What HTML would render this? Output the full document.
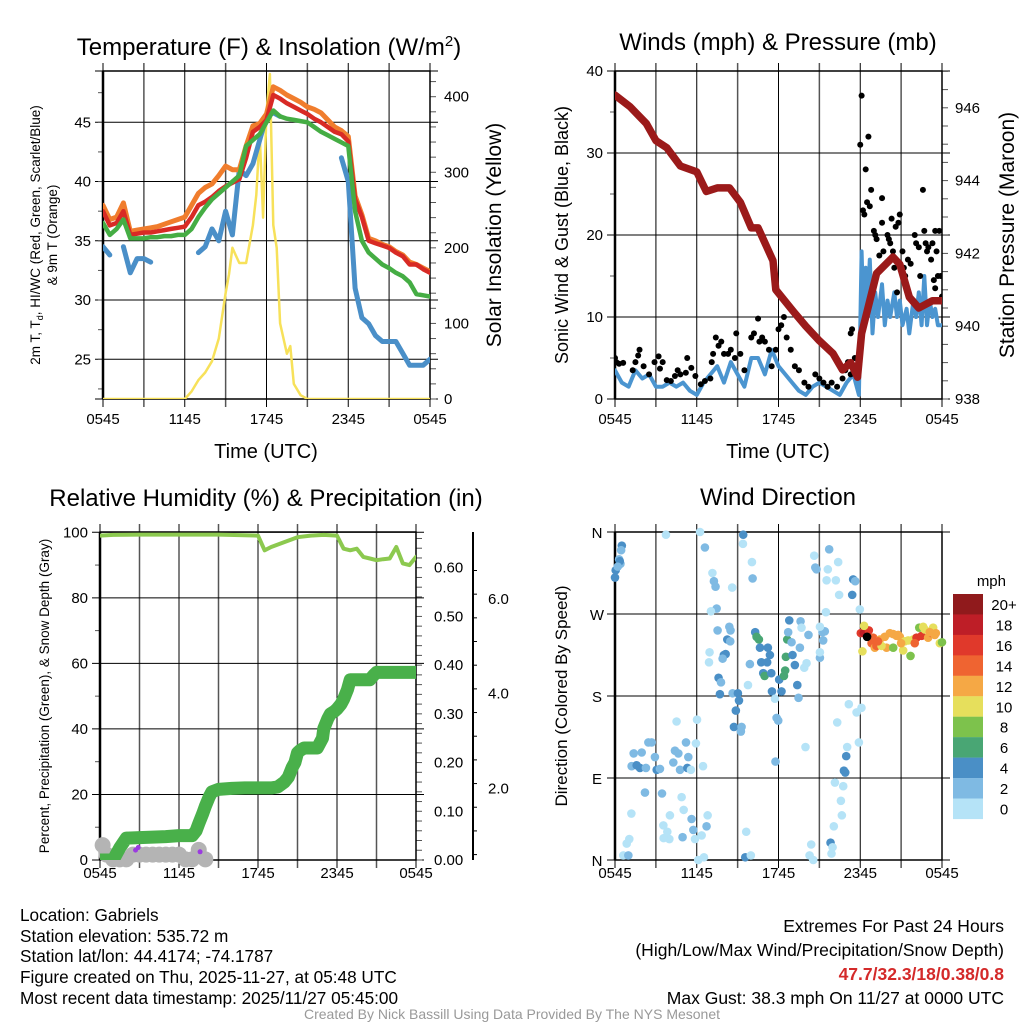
<!DOCTYPE html>
<html><head><meta charset="utf-8"><style>
body{margin:0;background:#fff;}
svg{display:block;font-family:"Liberation Sans",sans-serif;}
</style></head><body>
<svg id="fig" width="1024" height="1024" viewBox="0 0 1024 1024" xmlns="http://www.w3.org/2000/svg">
<g id="grids"></g>
<g id="marks"></g>
<g id="axes"></g>
<g id="labels" fill="#000">
<text x="269" y="55" font-size="24" text-anchor="middle">Temperature (F) &amp; Insolation (W/m<tspan dy="-9" font-size="15">2</tspan><tspan dy="9">)</tspan></text>
<text x="778" y="50" font-size="24" text-anchor="middle">Winds (mph) &amp; Pressure (mb)</text>
<text x="266" y="506" font-size="24" text-anchor="middle">Relative Humidity (%) &amp; Precipitation (in)</text>
<text x="778" y="505" font-size="24" text-anchor="middle">Wind Direction</text>
<text x="266" y="458" font-size="20" text-anchor="middle">Time (UTC)</text>
<text x="778" y="458" font-size="20" text-anchor="middle">Time (UTC)</text>
<text transform="translate(40,235) rotate(-90)" font-size="13.5" text-anchor="middle">2m T, T<tspan font-size="9" dy="3">d</tspan><tspan dy="-3">, HI/WC (Red, Green, Scarlet/Blue)</tspan></text>
<text transform="translate(57,235) rotate(-90)" font-size="13.5" text-anchor="middle">&amp; 9m T (Orange)</text>
<text transform="translate(501,235) rotate(-90)" font-size="21" text-anchor="middle">Solar Insolation (Yellow)</text>
<text transform="translate(568,235) rotate(-90)" font-size="18" text-anchor="middle">Sonic Wind &amp; Gust (Blue, Black)</text>
<text transform="translate(1014,235) rotate(-90)" font-size="21" text-anchor="middle">Station Pressure (Maroon)</text>
<text transform="translate(49,696) rotate(-90)" font-size="13.5" text-anchor="middle">Percent, Precipitation (Green), &amp; Snow Depth (Gray)</text>
<text transform="translate(567,696) rotate(-90)" font-size="17" text-anchor="middle">Direction (Colored By Speed)</text>
<text x="1006" y="586" font-size="15" text-anchor="end">mph</text>
<g font-size="17.2">
<text x="20" y="921">Location: Gabriels</text>
<text x="20" y="942">Station elevation: 535.72 m</text>
<text x="20" y="962">Station lat/lon: 44.4174; -74.1787</text>
<text x="20" y="983">Figure created on Thu, 2025-11-27, at 05:48 UTC</text>
<text x="20" y="1004">Most recent data timestamp: 2025/11/27 05:45:00</text>
</g>
<g font-size="17.5" text-anchor="end">
<text x="1004" y="932">Extremes For Past 24 Hours</text>
<text x="1004" y="956">(High/Low/Max Wind/Precipitation/Snow Depth)</text>
<text x="1004" y="980" fill="#d42a2a" font-weight="bold">47.7/32.3/18/0.38/0.8</text>
<text x="1004" y="1004">Max Gust: 38.3 mph On 11/27 at 0000 UTC</text>
</g>
<text x="512" y="1019" font-size="14" fill="#999" text-anchor="middle">Created By Nick Bassill Using Data Provided By The NYS Mesonet</text>
</g>
</svg>
<script>
// ---------- data ----------
const tHours = [0,0.5,1,1.5,2,2.5,3,3.5,4,4.5,5,5.5,6,6.5,7,7.5,8,8.5,9,9.5,10,10.5,11,11.5,12,12.5,13,13.5,14,14.5,15,15.5,16,16.5,17,17.5,18,18.5,19,19.5,20,20.5,21,21.5,22,22.5,23,23.5,24];
const temp2m = [37.5,36.3,36.5,37.5,35.5,35.6,35.7,35.7,35.8,35.9,36.0,36.1,36.2,37.0,38.0,38.3,38.7,39.2,39.6,39.9,40.2,42.0,44.2,44.6,45.2,47.3,47.0,46.6,46.3,46.0,45.7,45.3,45.0,44.6,44.2,44.0,43.4,38.5,37.0,35.0,34.8,34.6,34.4,34.0,33.7,33.0,33.0,32.6,32.3];
const temp9m = [38.0,36.8,37.0,38.2,35.8,35.9,36.0,36.1,36.2,36.4,36.6,36.8,37.0,38.0,39.0,39.5,39.8,40.5,41.3,41.0,41.0,43.0,44.7,44.9,45.7,48.0,47.7,47.3,47.0,46.7,46.3,46.1,45.8,45.2,44.6,44.3,43.8,38.8,37.2,35.2,35.0,34.7,34.5,34.1,33.8,33.2,33.0,32.7,32.4];
const dewpt = [36.5,35.5,36.0,36.8,35.2,35.2,35.2,35.3,35.3,35.4,35.4,35.5,35.5,36.0,37.0,37.8,38.5,39.0,39.5,40.0,40.5,43.0,43.5,44.0,45.0,46.0,45.5,45.3,45.2,45.1,45.0,44.6,44.2,43.9,43.6,43.3,43.0,37.5,35.0,34.0,33.5,33.0,32.7,32.3,32.0,31.5,30.5,30.4,30.3];
const windChill = [34.5,33.8,null,34.5,32.3,33.5,33.5,33.2,null,null,null,33.0,null,null,34.0,34.5,36.0,35.0,37.5,35.5,41.0,40.5,41.5,43.5,45.5,45.8,45.5,null,null,null,null,null,null,null,null,42.0,40.0,31.0,28.5,28.0,27.0,26.5,26.5,26.5,25.5,24.5,24.5,24.5,25.0];
const solarHours = [0,6,6.5,7,7.5,8,8.5,9,9.25,9.5,9.75,10,10.5,11,11.25,11.5,11.75,12,12.25,12.5,12.75,13,13.5,13.75,14,14.5,15,24];
const solarVals = [0,0,10,25,35,50,80,140,165,200,190,180,180,230,270,350,240,380,430,230,200,100,60,70,20,5,0,0];

const presHours = [0,1.1,2.3,3,3.8,4.8,6,6.7,7.5,8.4,9.2,10,10.5,11.6,11.8,13.1,14,15,16,16.7,17.3,17.8,18.1,18.7,19.2,20.4,20.9,21.6,22.3,23.3,24];
const presVals = [946.35,946.03,945.57,945.1,944.9,944.4,944.24,943.7,943.8,943.8,943.4,942.7,942.7,941.8,941.0,940.4,940.0,939.6,939.25,938.8,939.0,938.6,939.8,940.7,941.45,941.9,941.7,940.8,940.5,940.7,940.7];
const windHours = [0,0.5,1,1.5,2,2.5,3,3.5,4,4.5,5,5.5,6,6.5,7,7.5,8,8.5,9,9.5,10,10.5,11,11.5,12,12.5,13,13.5,14,14.5,15,15.5,16,16.5,17,17.5,17.9,18.0,18.1,18.2,18.3,18.4,18.5,18.7,18.9,19.1,19.3,19.6,19.8,20.0,20.2,20.5,20.7,20.9,21.1,21.4,21.6,21.9,22.1,22.3,22.5,22.7,22.9,23.1,23.3,23.5,23.7,24];
const windVals = [3.5,2,1.5,3.5,2.5,3,1.5,1.5,2,1.5,2,1,0.5,2,3,4,2,4.5,3,1.5,5,5,3,6,4,3,2,1,0.5,1.5,2,1.5,1,0.5,2,3,0.5,9,18,12,9,16,10,17,8,13,10,14,9,12,10,13,10,12,9,11,8,12,10,13,9,15,9,12,10,11,9,9];
const gustHours = [0,0.1,0.3,0.6,1.3,1.5,1.7,1.8,2.1,2.5,2.9,3.2,3.5,3.3,3.8,4.1,4.4,4.6,4.8,5.2,5.3,5.6,5.9,6.3,6.6,7,7.1,7.2,7.4,7.6,7.8,8,8.3,8.5,8.9,8.8,9.2,9.5,10,10.2,10.5,10.6,10.8,11,11.3,11.5,11.8,12,12.2,12.4,12.6,12.9,13.2,13.5,13.9,14.2,14.7,15,15.3,15.6,15.9,16.3,16.7,16.9,17.1,17.3,17.4,17.6,17.3,17.8,18.0,18.1,18.2,18.3,18.4,18.5,18.6,18.7,18.8,19.0,19.1,19.2,19.4,19.6,19.6,19.7,20,20.1,20.2,20.3,20.4,20.5,20.6,20.7,20.8,20.9,21.1,21.2,21.3,21.5,21.7,21.9,22,22.1,22.3,22.4,22.6,22.7,22.8,22.9,23,23.2,23.3,23.4,23.5,23.6,23.7,23.9,24,23.8,23.5];
const gustVals = [5,4.5,4.3,4.4,3.5,4.5,5.3,6,4,3,4.5,5.2,4.5,3.7,2.3,2.2,2.8,3.5,3,3.2,5,3.8,2.8,1.8,2.2,2.5,4.5,5.5,7.5,6.5,7,5.5,5.5,6,8,5,5.5,3.5,7.5,8,9.8,7,7.5,7,6,4,6,8.5,9,10,7.5,6,4,3.5,2,1.5,3,2.5,2,1.5,2,1.5,2.5,3.5,4.5,8,8.5,5,3,5,31,37,23,22.5,28,24,32,23.5,25.5,20.5,20,19.5,17.5,24.5,21.5,18,20,19.5,19,22,18,16,21,13,21.5,22.5,18,16,15,17,16.5,12,20,19,18.5,15,25.5,20.5,19,18,18.5,17,19,14.5,20.5,18,15,15,12.5,20.5,13.5];

const rhHours = [0,1,3,6,9,12,12.5,13,14,15,16,17,18,18.5,19,19.5,20,20.5,21,21.5,22,22.5,23,23.5,24];
const rhVals = [99,99.2,99.3,99.3,99.3,99,94.5,95.5,97,98.5,99,99.2,99,95,94.5,95,92.5,92,91.5,91.8,92,95.5,90.5,90,92.5];
const precipHours = [0,0.5,1,1.2,1.5,2,3,4,5,6,6.5,7,7.3,7.5,7.8,8,8.3,8.5,9,10,11,12,13,13.5,14,14.3,14.6,14.8,15,15.2,15.5,16,16.5,16.7,16.9,17,17.3,17.5,17.8,18,18.3,18.5,18.8,19,19.5,20,20.5,20.8,21,22,23,24];
const precipVals = [0,0,0,0.01,0.025,0.045,0.046,0.047,0.048,0.05,0.05,0.05,0.06,0.075,0.095,0.11,0.13,0.14,0.145,0.147,0.148,0.148,0.148,0.15,0.16,0.17,0.19,0.2,0.22,0.225,0.23,0.23,0.23,0.24,0.25,0.27,0.29,0.3,0.305,0.31,0.32,0.33,0.35,0.37,0.37,0.37,0.37,0.38,0.385,0.385,0.385,0.385];
const snowHours = [0.2,0.5,1,1.5,2,2.5,3,3.5,4,4.5,5,5.5,6,6.5,7,7.5,8];
const snowVals = [0.8,0.6,0.5,0.5,0.5,0.6,0.6,0.6,0.6,0.6,0.6,0.6,0.6,0.5,0.5,0.7,0.5];
const purpleHours = [2.7,2.9,7.6];
const purplePct = [3,3.8,2.5];

const dirHours = [0,0.05,0.3,0.4,0.5,0.45,0.35,0.2,3.74,6.24,6.6,7.15,7.26,7.38,7.46,7.04,8.6,9.41,9.39,10.05,10.1,14.62,14.7,14.79,15.72,15.62,15.53,16.21,16.38,16.45,17.48,17.63,17.41,17.97,15.48,7.53,8.39,8.48,8.24,8.46,7.99,8.12,7.9,6.94,6.9,7.6,7.78,7.7,8.63,9.02,9.1,8.87,8.73,9.29,9.24,9.76,9.9,10.29,10.39,10.56,10.64,11.22,11.37,10.73,11.17,10.88,10.98,11.47,11.52,12.05,12.22,12.4,12.49,12.54,13.03,13.2,12.64,12.79,12.71,12.96,13.57,13.62,13.69,14.2,13.38,13.47,14.06,13.89,11.74,11.86,11.98,11.78,13.98,15.04,15.04,15.23,15.4,15.04,15.28,17.16,17.73,18.09,16.31,17.9,17.04,16.97,16.8,16.9,16.14,16.75,16.58,16.65,16.06,15.82,15.97,15.89,14.4,14.28,14.55,1.37,1.96,2.45,2.69,1.22,1.59,1.83,2.27,2.93,3.06,3.3,4.4,4.65,5.21,4.28,4.77,5.31,5.57,5.38,5.94,6.46,4.52,6.02,2.2,3.45,4.89,5.04,1.2,1.05,0.86,0.61,0.98,4.03,3.55,3.84,3.99,3.57,5.62,5.75,4.96,5.87,6.36,6.72,6.8,6.11,6.53,9.56,9.97,9.63,18.04,18.26,18.63,18.28,18.83,19.07,18.95,19.44,19.93,20.17,20.42,20.66,20.9,21.27,21.15,21.69,21.88,22.13,22.5,22.33,22.62,22.98,23.23,23.35,23.55,23.84,24.0,20.42,20.78,19.19,19.56,21.52,18.16,22.74,23.1,23.47,19.8,21.0,22.0,19.3,18.5];
const dirDeg = [310,318,330,325,345,340,328,322,357,360,343,315,306,300,276,273,299,357,347,327,309,334,321,319,341,319,307,307,327,291,308,306,291,275,272,252,256,252,242,240,225,226,221,228,217,200,195,182,183,183,175,164,146,146,141,192,215,250,245,242,233,233,225,217,217,205,202,205,185,198,185,202,208,223,225,214,242,263,250,239,233,262,255,247,192,178,216,211,177,156,153,108,124,222,228,250,251,256,241,171,162,167,151,129,124,114,98,96,85,81,65,49,37,19,14,7,17,5,0,117,118,129,129,103,104,101,101,113,99,100,120,117,129,107,99,101,99,113,128,103,152,154,74,73,69,55,51,23,18,5,5,49,38,31,23,24,45,33,25,23,27,37,49,0,3,3,5,31,249,249,252,257,238,233,244,242,233,249,233,246,245,240,230,224,242,244,246,255,256,244,249,255,249,238,239,248,247,235,235,241,229,253,250,247,245,238,238,240,245];
const dirSpeed = [5,5,3,3,5,3,5,3,1,1,3,1,3,3,3,1,1,5,1,1,3,1,3,3,3,1,1,1,1,1,5,3,5,1,1,3,3,3,5,3,5,5,3,1,1,5,3,5,3,5,5,5,5,3,3,1,3,5,7,7,5,5,5,5,5,5,7,5,5,5,5,7,7,7,5,5,7,5,3,3,3,3,1,3,5,3,1,1,1,3,3,3,1,3,1,3,3,1,3,1,1,1,1,1,1,5,5,5,1,1,1,1,1,5,1,1,1,1,1,3,3,3,3,3,5,5,3,3,5,3,3,3,3,3,3,5,1,3,1,1,1,1,3,3,1,1,1,1,1,1,3,1,1,1,1,1,3,3,3,1,1,3,1,1,1,5,1,1,17,19,17,11,15,13,15,13,13,13,9,13,13,11,11,9,11,17,17,9,11,13,15,11,13,11,9,13,13,15,11,11,11,11,13,13,13,13,15,15];
const cbLabels = ["20+","18","16","14","12","10","8","6","4","2","0"];
const cbColors = ["#901a1c","#be1e27","#e0392b","#ef6431","#f5a845","#e6df5c","#7dc24c","#49a674","#4a8fc6","#7fbae3","#b5e3f7"];

const tempTicks = [25,30,35,40,45];
const solarTicks = [0,100,200,300,400];
const windTicks = [0,10,20,30,40];
const presTicks = [938,940,942,944,946];
const rhTicks = [0,20,40,60,80,100];
const precipTicks = ["0.00","0.10","0.20","0.30","0.40","0.50","0.60"];
const snowTicks = ["2.0","4.0","6.0"];
const dirTicks = ["N","E","S","W","N"];
const timeTicks = ["0545","1145","1745","2345","0545"];

// ---------- scales ----------
const NS = "http://www.w3.org/2000/svg";
const P1 = {x0:103,x1:430,y0:71,y1:399}, P2 = {x0:615,x1:942,y0:71,y1:399};
const P3 = {x0:100,x1:416,y0:532,y1:860}, P4 = {x0:615,x1:942,y0:532,y1:860};
const xs = P => h => P.x0 + h*(P.x1-P.x0)/24;
const yT = v => 122.3 + (45-v)*11.85;
const yS = v => 399 - v*302.3/400;
const yW = v => 399 - v*328/40;
const yP = v => 399 - (v-938)*36.4;
const yR = v => 860 - v*3.277;
const yPr = v => 860 - v*292.3/0.6;
const ySn = v => 883 - v*47.35;
const yD = v => 860 - v*328/360;

const G = id => document.getElementById(id);
function el(tag, attrs, parent){const e=document.createElementNS(NS,tag);for(const k in attrs)e.setAttribute(k,attrs[k]);parent.appendChild(e);return e;}

function pathFrom(hs, vs, x, y){
  let d="", pen=false;
  for(let i=0;i<hs.length;i++){
    if(vs[i]===null){pen=false;continue;}
    d += (pen?"L":"M") + x(hs[i]).toFixed(1) + "," + y(vs[i]).toFixed(1);
    pen=true;
  }
  return d;
}
function clipRect(id,P){
  const defs = document.querySelector("#fig defs") || el("defs",{},G("fig"));
  const c = el("clipPath",{id:id},defs);
  el("rect",{x:P.x0,y:P.y0,width:P.x1-P.x0,height:P.y1-P.y0},c);
}
clipRect("c1",P1);clipRect("c2",P2);clipRect("c3",P3);clipRect("c4",P4);

// ---------- grids & frames ----------
function frame(P, yPositions, minorLeft, minorRight){
  const g = G("grids");
  for(let k=0;k<=8;k++){
    const x = P.x0 + k*(P.x1-P.x0)/8;
    const ln = el("line",{x1:x,x2:x,y1:P.y0-8,y2:P.y1+8,stroke:(k%2?"#555":"#000"),"stroke-width":k%2?1.5:1},g);
    
    
  }
  yPositions.forEach(y=>{
    const ln = el("line",{x1:P.x0-8,x2:P.x1+8,y1:y,y2:y,stroke:"#000","stroke-width":1},g);
    
    
  });
  minorLeft.forEach(y=>el("line",{x1:P.x0-5,x2:P.x0,y1:y,y2:y,stroke:"#555"},g));
  minorRight.forEach(y=>el("line",{x1:P.x1,x2:P.x1+6,y1:y,y2:y,stroke:"#555"},g));
  const r = el("rect",{x:P.x0,y:P.y0,width:P.x1-P.x0,height:P.y1-P.y0,fill:"none",stroke:"#000","stroke-width":1.5},g);
  
  
  el("line",{x1:P.x0,x2:P.x0,y1:P.y0,y2:P.y1,stroke:"#000","stroke-width":2.5},g);
}
function rng(a,b,s){const o=[];for(let v=a;v<=b+1e-9;v+=s)o.push(v);return o;}
frame(P1,[P1.y0,...tempTicks.map(yT),P1.y1],rng(22.5,47.5,2.5).map(yT),rng(0,430,20).map(yS));
frame(P2,windTicks.map(yW),rng(5,35,10).map(yW),rng(938,947,0.5).map(yP));
frame(P3,rhTicks.map(yR),rng(10,90,20).map(yR),rng(0,0.67,0.02).map(yPr));
frame(P4,[0,90,180,270,360].map(yD),[],[]);

// ---------- tick labels ----------
const L = G("axes");
function txt(x,y,s,anchor,size,name){
  const t = el("text",{x:x,y:y,"font-size":size||15,"text-anchor":anchor||"middle"},L);
  t.textContent = s;
  
  
  return t;
}
[P1,P2].forEach(P=>timeTicks.forEach((s,i)=>txt(xs(P)(i*6),424,s,"middle",15,'time-tick-label')));
[P3,P4].forEach(P=>timeTicks.forEach((s,i)=>txt(xs(P)(i*6),878,s,"middle",15,'time-tick-label')));
tempTicks.forEach(v=>txt(P1.x0-12,yT(v)+5,String(v),"end",15,'temp-tick-label'));
solarTicks.forEach(v=>txt(P1.x1+14,yS(v)+5,String(v),"start",15,'solar-tick-label'));
windTicks.forEach(v=>txt(P2.x0-12,yW(v)+5,String(v),"end",15,'wind-tick-label'));
presTicks.forEach(v=>txt(P2.x1+13,yP(v)+5,String(v),"start",15,'pressure-tick-label'));
rhTicks.forEach(v=>txt(P3.x0-12,yR(v)+5,String(v),"end",15,'rh-tick-label'));
precipTicks.forEach(s=>txt(P3.x1+18,yPr(+s)+5,s,"start",15,'precip-tick-label'));
dirTicks.forEach((s,i)=>txt(P4.x0-18,yD(i*90)+6,s,"middle",15,'direction-tick-label'));
const sx = 473;
el("line",{x1:sx,x2:sx,y1:532,y2:860,stroke:"#000","stroke-width":2},L);
rng(0.6,6.8,0.5).forEach(v=>{const y=ySn(v); if(y>=532&&y<=860) el("line",{x1:sx,x2:sx+(Math.abs(v%2)<0.01?6:4),y1:y,y2:y,stroke:"#000"},L);});
snowTicks.forEach(s=>txt(sx+15,ySn(+s)+5,s,"start",15,'snow-tick-label'));

// ---------- marks ----------
const M = G("marks");
function line(hs,vs,x,y,color,w,clip,name){
  const p = el("path",{d:pathFrom(hs,vs,x,y),fill:"none",stroke:color,"stroke-width":w,"stroke-linejoin":"round","stroke-linecap":"round","clip-path":"url(#"+clip+")"},M);
  
  
}
const x1=xs(P1),x2=xs(P2),x3=xs(P3),x4=xs(P4);
line(solarHours,solarVals,x1,yS,"#f7e15a",2.5,"c1","solar-line");
line(tHours,windChill,x1,yT,"#4a8fc8",5,"c1","windchill-line");
line(tHours,temp9m,x1,yT,"#f07d2d",5,"c1","temp-9m-line");
line(tHours,temp2m,x1,yT,"#d82a25",4.5,"c1","temp-2m-line");
line(tHours,dewpt,x1,yT,"#45ad44",4.5,"c1","dewpoint-line");

line(windHours,windVals,x2,yW,"#4b95d0",4,"c2","wind-line");
gustHours.forEach((h,i)=>{
  const c = el("circle",{cx:x2(h),cy:yW(gustVals[i]),r:3,fill:"#000","clip-path":"url(#c2)"},M);
  
  
});
line(presHours,presVals,x2,yP,"#9b1a1a",7.5,"c2","pressure-line");

snowHours.forEach((h,i)=>{
  const c = el("circle",{cx:x3(h),cy:ySn(snowVals[i]),r:8,fill:"#b4b4b4"},M);
  
  
});
line(rhHours,rhVals,x3,yR,"#8cc94f",4,"c3","rh-line");
line(precipHours,precipVals,x3,yPr,"#49b04a",13,"c3","precip-line");
purpleHours.forEach((h,i)=>{
  const c = el("circle",{cx:x3(h),cy:yR(purplePct[i]),r:2.5,fill:"#9b3be0"},M);
  
  
});

function speedColor(s){const b=Math.min(10,Math.floor(s/2));return cbColors[10-b];}
dirHours.forEach((h,i)=>{
  const c = el("circle",{cx:x4(h),cy:yD(dirDeg[i]),r:4.3,fill:speedColor(dirSpeed[i])},M);
  
  
});
cbColors.forEach((col,i)=>{
  const r = el("rect",{x:953,y:594+i*20.45,width:30,height:20.6,fill:col},M);
  
  
  txt(1004,594+i*20.45+16,cbLabels[i],"middle",15,'colorbar-label');
});
</script>
</body></html>
